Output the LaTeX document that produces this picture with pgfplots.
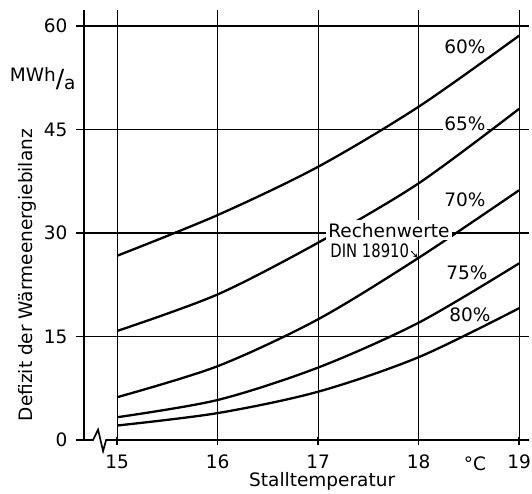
\documentclass[border=0pt]{standalone}
\usepackage{fontspec}
\setmainfont{DejaVu Sans}
\usepackage{graphicx}
\usepackage{pgfplots}
\pgfplotsset{compat=1.18}
\begin{document}
\begin{tikzpicture}
\begin{axis}[
  scale only axis, width=445.2pt, height=429.9pt,
  xmin=14.67, xmax=19.1, ymin=0, ymax=62.3,
  axis line style={draw=none},
  xtick={15,16,17,18,19}, ytick={15,30,45,60},
  extra y ticks={0}, extra y tick style={grid=none},
  xmajorgrids, ymajorgrids,
  grid style={black, line width=1.2pt},
  xtick pos=bottom, ytick pos=left,
  tick align=outside, major tick length=8pt,
  tick style={black, line width=1.6pt},
  xtick style={yshift=3pt},
  /pgf/number format/assume math mode=true,
  ticklabel style={font=\fontsize{18.5}{21}\selectfont},
  xticklabel style={yshift=-3pt},
  yticklabel style={xshift=-5pt},
  clip=false,
]
\draw[line width=1.7pt] (axis cs:14.67,0) -- (axis cs:14.67,62.3);
\draw[line width=1.7pt] (axis cs:14.67,0) -- (axis cs:14.76,0) -- (axis cs:14.81,1.5) -- (axis cs:14.86,-1.6) -- (axis cs:14.89,0) -- (axis cs:19.1,0);

\addplot[black, line width=2.3pt, smooth] coordinates {(15,26.7) (16,32.6) (17,39.6) (18,48.3) (19,58.6)};
\addplot[black, line width=2.3pt, smooth] coordinates {(15,15.8) (16,21.1) (17,28.6) (18,37.2) (19,48.0)};
\addplot[black, line width=2.3pt, smooth] coordinates {(15,6.2) (16,10.7) (17,17.5) (18,26.4) (19,36.2)};
\addplot[black, line width=2.3pt, smooth] coordinates {(15,3.3) (16,5.8) (17,10.5) (18,17.0) (19,25.6)};
\addplot[black, line width=2.3pt, smooth] coordinates {(15,2.1) (16,3.9) (17,7.0) (18,12.0) (19,19.1)};

\tikzset{lab/.style={font=\fontsize{18.5}{21}\selectfont, inner sep=1pt}}
\node[lab] at (axis cs:18.46,57.0) {60\%};
\node[lab, fill=white, inner sep=1.5pt] at (axis cs:18.46,45.8) {65\%};
\node[lab] at (axis cs:18.46,34.8) {70\%};
\node[lab] at (axis cs:18.48,24.2) {75\%};
\node[lab] at (axis cs:18.51,18.1) {80\%};
\node[lab, fill=white, inner xsep=2pt, inner ysep=3pt, anchor=base west] at (axis cs:17.08,29.4) {Rechenwerte};
\node[lab, anchor=base west, inner sep=0pt] (din) at (axis cs:17.12,26.5) {\scalebox{0.8}[1]{\fontsize{18.5}{21}\selectfont DIN 18910}};
\draw[-stealth, line width=1pt] ([xshift=2pt,yshift=6pt]din.base east) -- (axis cs:17.99,26.4);
\node[lab, anchor=base] at (axis cs:18.56,-4.35) {°C};
\node[lab, anchor=base] at (axis cs:17.04,-6.8) {Stalltemperatur};
\node[lab, anchor=base west] at (axis cs:13.92,51.9) {MWh\raisebox{-6pt}{\fontsize{25}{25}\selectfont/}\raisebox{-8pt}{a}};
\node[lab, anchor=base, rotate=90] at (axis cs:14.153,23.9) {Defizit der Wärmeenergiebilanz};
\end{axis}
\pgfresetboundingbox
\path (-84pt,-53pt) rectangle (448pt,440pt);
\end{tikzpicture}
\end{document}
